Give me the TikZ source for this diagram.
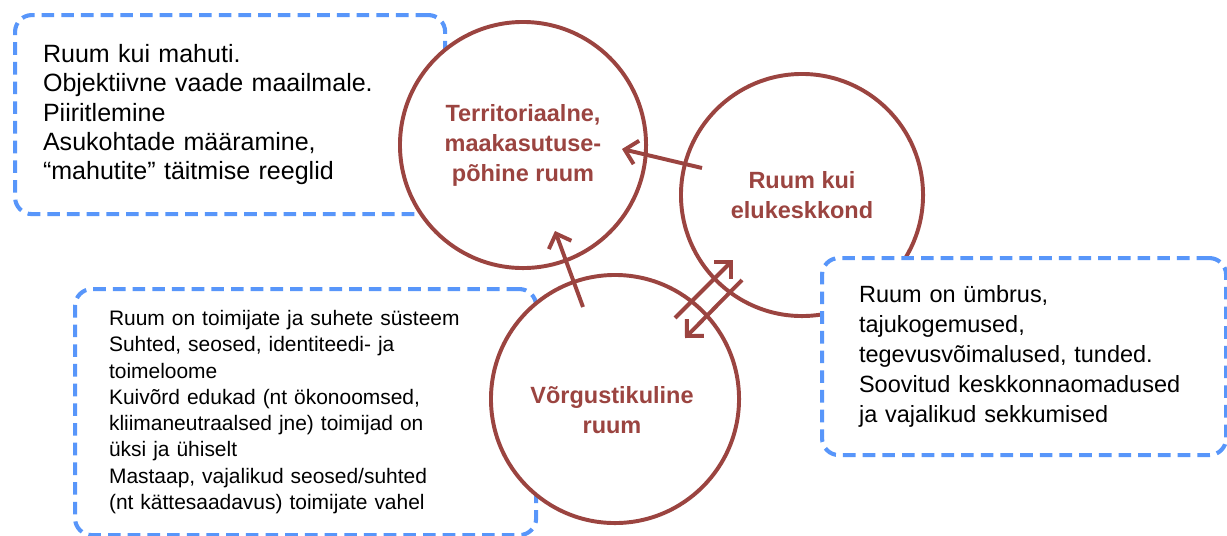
\documentclass[tikz,border=0pt]{standalone}
\usepackage{fontspec}
\setmainfont{Liberation Sans}
\usepackage{tikz}
\usetikzlibrary{arrows.meta,positioning}
\definecolor{zonered}{RGB}{155,68,64}
\definecolor{dashblue}{RGB}{88,150,250}

\begin{document}
\begin{tikzpicture}[
    x=0.025cm, y=-0.025cm,
    infobox/.style={draw=dashblue, dash pattern=on 9pt off 5pt, line width=2.9pt, rounded corners=12pt, fill=white, anchor=north west, align=left, inner ysep=0pt},
    zone/.style={circle, draw=zonered, line width=2.8pt, fill=white, text=zonered, font=\fontsize{16.7}{21.3}\selectfont\bfseries, align=center, inner sep=0pt},
    zonelabel/.style={text=zonered, font=\fontsize{16.7}{21.3}\selectfont\bfseries, align=center},
    arrow/.style={-{Straight Barb[length=3mm,width=6mm]}, draw=zonered, line width=2.8pt}
]
\useasboundingbox (0,0) rectangle (1227,535);

% left boxes, under the circles
\node[infobox, minimum width=10.75cm, minimum height=4.975cm, text width=9.35cm, inner xsep=0.7cm,
      font=\fontsize{17.8}{20.8}\selectfont] (b1) at (13,13)
  {Ruum kui mahuti.\\ Objektiivne vaade maailmale.\\ Piiritlemine\\ Asukohtade määramine,\\ “mahutite” täitmise reeglid};
\node[infobox, minimum width=11.525cm, minimum height=6.15cm, text width=9.825cm, inner xsep=0.85cm,
      font=\fontsize{14.9}{18.7}\selectfont] (b2) at (73,287)
  {Ruum on toimijate ja suhete süsteem\\ Suhted, seosed, identiteedi- ja\\ toimeloome\\ Kuivõrd edukad (nt ökonoomsed,\\ kliimaneutraalsed jne) toimijad on\\ üksi ja ühiselt\\ Mastaap, vajalikud seosed/suhted\\ (nt kättesaadavus) toimijate vahel};

% circles
\node[zone, minimum size=6.15cm] (c1) at (523,145) {Territoriaalne,\\ maakasutuse-\\ põhine ruum};
\node[zone, minimum size=6.05cm] (c2) at (802,195) {Ruum kui\\ elukeskkond};
\node[zone, minimum size=6.2cm] (c3) at (615,399) {};
\node[zonelabel] (c3text) at (612,410) {Võrgustikuline\\ ruum};

% right box, over the circle
\node[infobox, minimum width=10.1cm, minimum height=4.925cm, text width=8.25cm, inner xsep=0.925cm,
      font=\fontsize{16.7}{21.3}\selectfont] (b3) at (820,256)
  {Ruum on ümbrus,\\ tajukogemused,\\ tegevusvõimalused, tunded.\\ Soovitud keskkonnaomadused\\ ja vajalikud sekkumised};

% arrows
\coordinate (a1s) at (702,168);
\coordinate (a1e) at (622,149);
\coordinate (a2s) at (583,307);
\coordinate (a2e) at (555,231);
\coordinate (a3s) at (675,318);
\coordinate (a3e) at (733,260);
\coordinate (a4s) at (742,280);
\coordinate (a4e) at (685,338);
\foreach \i/\j in {a1s/a1e, a2s/a2e, a3s/a3e, a4s/a4e}
  \draw[arrow] (\i) -- (\j);
\end{tikzpicture}
\end{document}
